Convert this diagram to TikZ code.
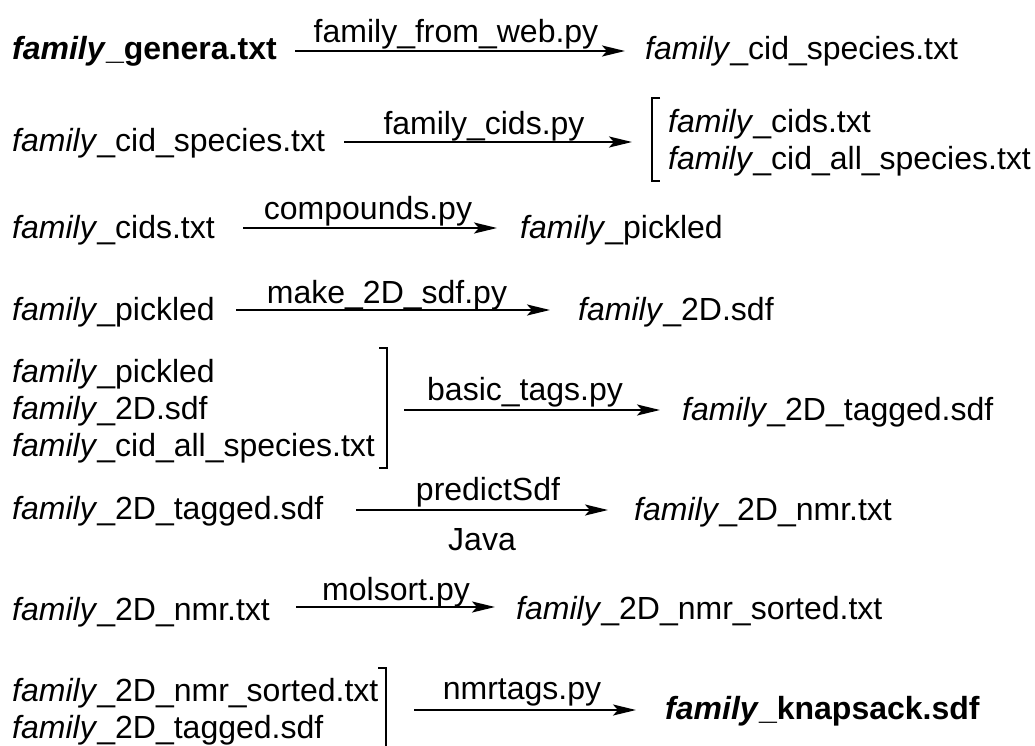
\documentclass[tikz,border=0pt]{standalone}
\usepackage{fontspec}
\setmainfont{Liberation Sans}
\usetikzlibrary{arrows.meta}
\newcommand\fpre{\textit{family}\_}
\begin{document}
\begin{tikzpicture}[x=1pt,y=-1pt,
  txt/.style={anchor=base west,inner sep=0pt,font=\fontsize{32}{37}\selectfont},
  lbl/.style={anchor=base,inner sep=0pt,font=\fontsize{32}{37}\selectfont},
  flow/.style={line width=2.4pt,-{Stealth[length=23pt,width=11pt,inset=5pt]}},
  brk/.style={line width=2pt}]
\useasboundingbox (0,0) rectangle (1035,745);

% step 1
\node[txt] (l1) at (12,59) {\textbf{\fpre genera.txt}};
\node[txt] (r1) at (645,59) {\fpre cid\_species.txt};
\coordinate (a1) at (295,51);
\coordinate (b1) at (625,51);
\draw[flow] (a1) -- (b1);
\node[lbl] (p1) at (456,42) {family\_from\_web.py};

% step 2
\node[txt] (l2) at (12,151) {\fpre cid\_species.txt};
\node[txt] (r2a) at (668,132) {\fpre cids.txt};
\node[txt] (r2b) at (668,169) {\fpre cid\_all\_species.txt};
\coordinate (a2) at (344,142);
\coordinate (b2) at (632,142);
\draw[flow] (a2) -- (b2);
\node[lbl] (p2) at (484,134) {family\_cids.py};
\draw[brk] (660,98) -- (652,98) -- (652,181) -- (660,181);

% step 3
\node[txt] (l3) at (12,238) {\fpre cids.txt};
\node[txt] (r3) at (520,238) {\fpre pickled};
\coordinate (a3) at (243,228);
\coordinate (b3) at (497,228);
\draw[flow] (a3) -- (b3);
\node[lbl] (p3) at (368,219) {compounds.py};

% step 4
\node[txt] (l4) at (12,320) {\fpre pickled};
\node[txt] (r4) at (578,320) {\fpre 2D.sdf};
\coordinate (a4) at (236,310);
\coordinate (b4) at (550,310);
\draw[flow] (a4) -- (b4);
\node[lbl] (p4) at (387,303) {make\_2D\_sdf.py};

% step 5
\node[txt] (l5a) at (12,382) {\fpre pickled};
\node[txt] (l5b) at (12,419) {\fpre 2D.sdf};
\node[txt] (l5c) at (12,456) {\fpre cid\_all\_species.txt};
\draw[brk] (379,348) -- (387,348) -- (387,468) -- (379,468);
\node[txt] (r5) at (682,420) {\fpre 2D\_tagged.sdf};
\coordinate (a5) at (404,410);
\coordinate (b5) at (660,410);
\draw[flow] (a5) -- (b5);
\node[lbl] (p5) at (525,400) {basic\_tags.py};

% step 6
\node[txt] (l6) at (12,519) {\fpre 2D\_tagged.sdf};
\node[txt] (r6) at (634,520) {\fpre 2D\_nmr.txt};
\coordinate (a6) at (356,510);
\coordinate (b6) at (608,510);
\draw[flow] (a6) -- (b6);
\node[lbl] (p6) at (488,500) {predictSdf};
\node[lbl] (q6) at (482,550) {Java};

% step 7
\node[txt] (l7) at (12,620) {\fpre 2D\_nmr.txt};
\node[txt] (r7) at (516,619) {\fpre 2D\_nmr\_sorted.txt};
\coordinate (a7) at (296,607);
\coordinate (b7) at (495,607);
\draw[flow] (a7) -- (b7);
\node[lbl] (p7) at (396,600) {molsort.py};

% step 8
\node[txt] (l8a) at (12,701) {\fpre 2D\_nmr\_sorted.txt};
\node[txt] (l8b) at (12,738) {\fpre 2D\_tagged.sdf};
\draw[brk] (378,668) -- (386,668) -- (386,752);
\node[txt] (r8) at (665,719) {\textbf{\fpre knapsack.sdf}};
\coordinate (a8) at (414,710);
\coordinate (b8) at (636,710);
\draw[flow] (a8) -- (b8);
\node[lbl] (p8) at (522,699) {nmrtags.py};
\end{tikzpicture}
\end{document}
